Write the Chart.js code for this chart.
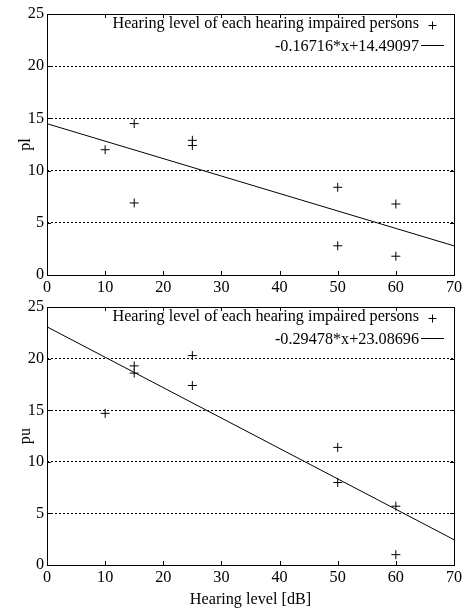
<!DOCTYPE html>
<html>
<head>
<meta charset="utf-8">
<title>pl / pu vs hearing level</title>
<script src="https://cdn.jsdelivr.net/npm/chart.js@4.4.1/dist/chart.umd.min.js"></script>
<style>
  html, body { margin: 0; padding: 0; background: #fff; }
  #wrap { position: relative; width: 474px; height: 610px; }
  .panel { position: absolute; left: 0; width: 474px; }
</style>
</head>
<body>
<div id="wrap">
  <div class="panel" style="top:0;height:296px"><canvas id="plChart"></canvas></div>
  <div class="panel" style="top:296px;height:314px"><canvas id="puChart"></canvas></div>
</div>
<script>
// data
const hearingLevels = [10, 15, 15, 25, 25, 50, 50, 60, 60];
const plValues = [12.0, 14.5, 6.9, 12.9, 12.4, 8.4, 2.8, 6.8, 1.8];
const puValues = [14.7, 19.3, 18.6, 20.3, 17.4, 11.4, 8.0, 5.7, 1.0];

// fitted lines, as given in the legends
const plFit = { slope: -0.16716, intercept: 14.49097 };
const puFit = { slope: -0.29478, intercept: 23.08696 };

const xRange = [0, 70];
const yRange = [0, 25];
const xStep = 10;
const yStep = 5;

const pointsLabel = "Hearing level of each hearing impaired persons";
const xTitle = "Hearing level [dB]";

const FONT = "'Liberation Serif', 'Times New Roman', serif";
const FSIZE = 16.2;

function fitLabel(fit) {
  return fit.slope.toFixed(5) + "*x+" + fit.intercept.toFixed(5);
}

function fitPoints(fit) {
  return xRange.map(x => ({ x: x, y: fit.slope * x + fit.intercept }));
}

// box around the plot, inward tick marks, and a gnuplot-like key
const gnuplotFrame = {
  id: "gnuplotFrame",
  afterDatasetsDraw(chart) {
    const { ctx, chartArea: a, scales } = chart;
    ctx.save();
    ctx.strokeStyle = "#000";
    ctx.lineWidth = 1;
    ctx.setLineDash([]);
    ctx.strokeRect(Math.round(a.left) + 0.5, Math.round(a.top) + 0.5,
      Math.round(a.right - a.left), Math.round(a.bottom - a.top));

    ctx.beginPath();
    scales.x.ticks.forEach(t => {
      const px = Math.round(scales.x.getPixelForValue(t.value)) + 0.5;
      ctx.moveTo(px, a.bottom); ctx.lineTo(px, a.bottom - 4);
      ctx.moveTo(px, a.top); ctx.lineTo(px, a.top + 4);
    });
    scales.y.ticks.forEach(t => {
      const py = Math.round(scales.y.getPixelForValue(t.value)) + 0.5;
      ctx.moveTo(a.left, py); ctx.lineTo(a.left + 4, py);
      ctx.moveTo(a.right, py); ctx.lineTo(a.right - 4, py);
    });
    ctx.stroke();

    // key
    ctx.font = FSIZE + "px " + FONT;
    ctx.fillStyle = "#000";
    ctx.textAlign = "right";
    ctx.textBaseline = "middle";
    const textRight = a.right - 35;
    chart.data.datasets.forEach((ds, i) => {
      const y = a.top + 10 + i * 23;
      ctx.fillText(ds.label, textRight, y);
      ctx.beginPath();
      if (ds.showLine) {
        ctx.moveTo(a.right - 33, Math.round(y) - 1.5);
        ctx.lineTo(a.right - 10, Math.round(y) - 1.5);
      } else {
        const cx = Math.round(a.right - 22) + 0.5, cy = Math.round(y) + 1.5;
        ctx.moveTo(cx - 4, cy); ctx.lineTo(cx + 4, cy);
        ctx.moveTo(cx, cy - 4); ctx.lineTo(cx, cy + 4);
      }
      ctx.stroke();
    });
    ctx.restore();
  }
};

function makeChart(id, values, fit, yTitle, opts) {
  return new Chart(document.getElementById(id), {
    type: "scatter",
    data: {
      datasets: [
        {
          label: pointsLabel,
          data: hearingLevels.map((x, i) => ({ x: x, y: values[i] })),
          pointStyle: "cross",
          pointRadius: 4.5,
          pointBorderWidth: 1,
          borderColor: "#000",
          backgroundColor: "#000",
        },
        {
          label: fitLabel(fit),
          data: fitPoints(fit),
          showLine: true,
          pointRadius: 0,
          borderWidth: 1,
          borderColor: "#000",
        },
      ],
    },
    options: {
      responsive: true,
      maintainAspectRatio: false,
      animation: false,
      layout: { padding: { top: opts.top, right: 20, left: 0, bottom: 0 } },
      plugins: {
        legend: { display: false },
        tooltip: { enabled: false },
      },
      scales: {
        x: {
          type: "linear",
          min: xRange[0],
          max: xRange[1],
          afterFit: s => { s.height = opts.xHeight; },
          ticks: {
            stepSize: xStep,
            color: "#000",
            padding: -5,
            maxRotation: 0,
            font: { family: FONT, size: FSIZE },
          },
          grid: { display: false },
          border: { display: false },
          title: {
            display: !!opts.xTitle,
            text: opts.xTitle || "",
            color: "#000",
            font: { family: FONT, size: FSIZE },
            padding: { top: 0, bottom: 1 },
          },
        },
        y: {
          min: yRange[0],
          max: yRange[1],
          afterFit: s => { s.width = 47; },
          ticks: {
            stepSize: yStep,
            color: "#000",
            padding: 3,
            font: { family: FONT, size: FSIZE, lineHeight: 1 },
          },
          grid: {
            drawTicks: false,
            color: c => (c.tick && (c.tick.value === yRange[0] || c.tick.value === yRange[1])) ? "rgba(0,0,0,0)" : "#000",
            lineWidth: 1,
          },
          border: { display: false, dash: [2, 2] },
          title: {
            display: true,
            text: yTitle,
            color: "#000",
            font: { family: FONT, size: FSIZE },
            padding: { top: 16, bottom: 0 },
          },
        },
      },
    },
    plugins: [gnuplotFrame],
  });
}

makeChart("plChart", plValues, plFit, "pl", { top: 14, xHeight: 21 });
makeChart("puChart", puValues, puFit, "pu", { top: 8, xHeight: 45, xTitle: xTitle });
</script>
</body>
</html>
